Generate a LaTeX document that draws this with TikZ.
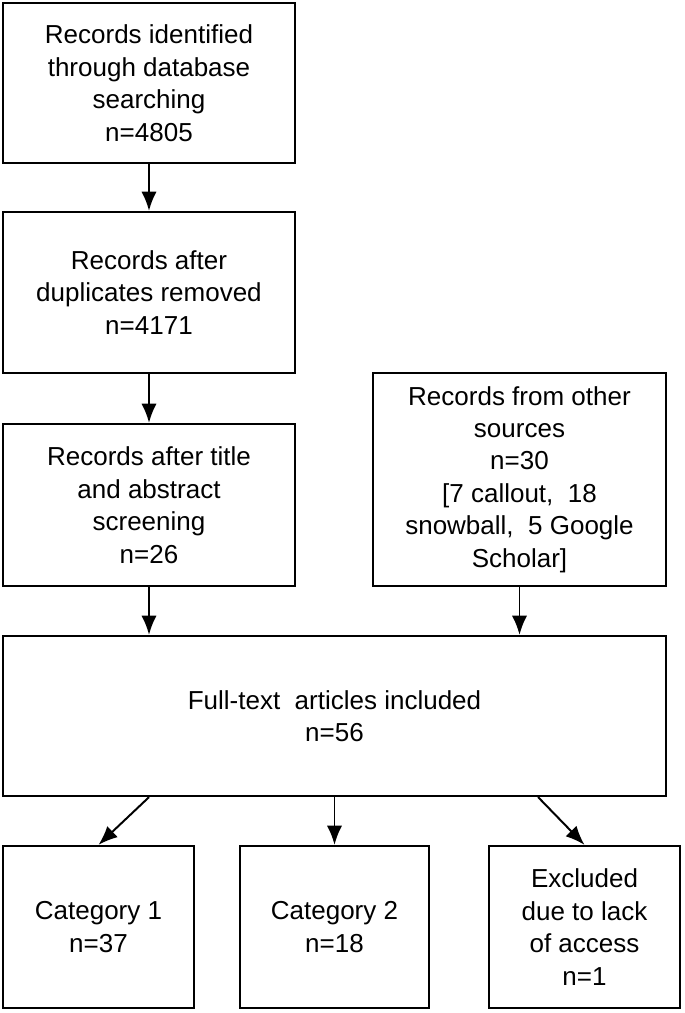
\documentclass[tikz,border=0pt]{standalone}
\usepackage{fontspec}
\setmainfont{Liberation Sans}
\usetikzlibrary{arrows.meta}

\begin{document}
\begin{tikzpicture}[>={Latex[length=0.48cm,width=0.38cm]},
    box/.style={draw,line width=1.6pt,align=center,inner sep=0pt,
      font=\fontsize{18.5}{23.1}\selectfont},
    link/.style={->,line width=1.4pt}]
        \useasboundingbox (0,0) rectangle (17.125,-25.325);

        \node[box,minimum width=7.3cm,minimum height=4cm] (ident) at (3.725,-2.075)
          {Records identified\\through database\\searching\\n=4805};
        \node[box,minimum width=7.3cm,minimum height=4.025cm] (dedup) at (3.725,-7.3125)
          {Records after\\duplicates removed\\n=4171};
        \node[box,minimum width=7.3cm,minimum height=4.05cm] (screen) at (3.725,-12.625)
          {Records after title\\and abstract\\screening\\n=26};
        \node[box,minimum width=7.325cm,minimum height=5.325cm] (other) at (12.9875,-11.9875)
          {Records from other\\sources\\n=30\\{[}7 callout,\ \ 18\\snowball,\ \ 5 Google\\Scholar{]}};

        \node[box,minimum width=16.575cm,minimum height=4cm] (fulltext) at (8.3625,-17.9)
          {Full-text\ \ articles included\\n=56};

        \node[box,minimum width=4.775cm,minimum height=4.05cm] (cat1) at (2.4625,-23.175)
          {Category 1\\n=37};
        \node[box,minimum width=4.725cm,minimum height=4.05cm] (cat2) at (8.3625,-23.175)
          {Category 2\\n=18};
        \node[box,minimum width=4.775cm,minimum height=4.05cm] (excl) at (14.6125,-23.175)
          {Excluded\\due to lack\\of access\\n=1};

        \draw[link] (ident) -- (dedup);
        \draw[link] (dedup) -- (screen);
        \draw[link] (screen.south) -- (screen.south |- fulltext.north);
        \draw[link] (other.south) -- (other.south |- fulltext.north);

        \draw[link] (fulltext.south -| screen) -- (cat1.north);
        \draw[link] (fulltext.south) -- (cat2.north);
        \draw[link] ([xshift=5.09cm]fulltext.south) -- (excl.north);
      \end{tikzpicture}
\end{document}
